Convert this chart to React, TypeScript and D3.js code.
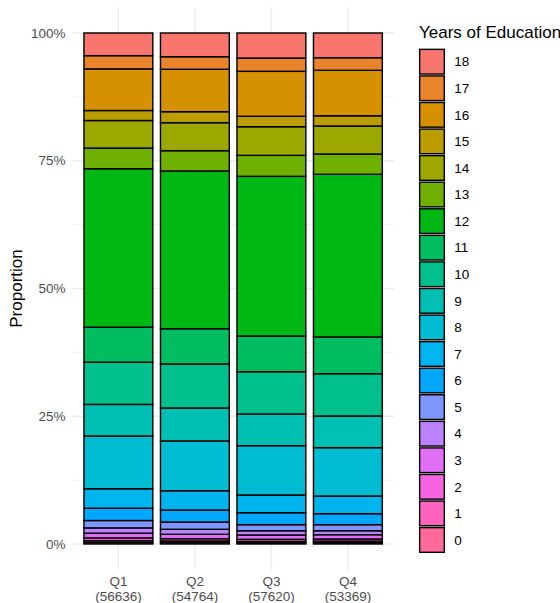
import React from "react";
import * as d3 from "d3";

// Levels of "Years of Education", 0..18
const levels: number[] = d3.range(0, 19);
const quarters: string[] = ["Q1", "Q2", "Q3", "Q4"];
const counts: string[] = ["56636", "54764", "57620", "53369"];

// Percentages per level (index = years of education 0..18)
const q1: number[] = [0.3, 0.35, 0.55, 0.92, 1.04, 1.44, 2.41, 3.82, 10.33, 6.2, 8.28, 6.85, 31.06, 4.05, 5.4, 1.96, 8.15, 2.6, 4.44];
const q2: number[] = [0.3, 0.3, 0.44, 0.86, 0.98, 1.42, 2.35, 3.78, 9.73, 6.45, 8.62, 6.9, 30.87, 3.97, 5.48, 2.15, 8.3, 2.46, 4.64];
const q3: number[] = [0.25, 0.27, 0.4, 0.84, 0.84, 1.18, 2.35, 3.46, 9.65, 6.2, 8.28, 6.98, 31.25, 4.11, 5.6, 2.04, 8.8, 2.6, 4.9];
const q4: number[] = [0.28, 0.28, 0.42, 0.84, 0.78, 1.18, 2.15, 3.46, 9.46, 6.2, 8.28, 7.18, 31.84, 3.97, 5.48, 2.0, 8.9, 2.47, 4.83];
const series: number[][] = [q1, q2, q3, q4];

const yTicks: number[] = [0, 0.25, 0.5, 0.75, 1];
const yMinor: number[] = [0.125, 0.375, 0.625, 0.875];

// R-style hcl (polarLUV) -> hex
function hclHex(h: number, c: number, l: number): string {
  const hr = (h * Math.PI) / 180;
  const U = c * Math.cos(hr);
  const V = c * Math.sin(hr);
  const Xn = 95.047, Yn = 100, Zn = 108.883;
  const t = Xn + 15 * Yn + 3 * Zn;
  const un = (4 * Xn) / t, vn = (9 * Yn) / t;
  const Y = Yn * (l > 7.999592 ? Math.pow((l + 16) / 116, 3) : l / 903.3);
  const u = U / (13 * l) + un;
  const v = V / (13 * l) + vn;
  const X = (9 * Y * u) / (4 * v);
  const Z = -X / 3 - 5 * Y + (3 * Y) / v;
  const g = (x: number) => {
    const y = x <= 0.0031308 ? 12.92 * x : 1.055 * Math.pow(x, 1 / 2.4) - 0.055;
    return Math.round(255 * Math.max(0, Math.min(1, y)));
  };
  const R = (3.240479 * X - 1.53715 * Y - 0.498535 * Z) / Yn;
  const G = (-0.969256 * X + 1.875992 * Y + 0.041556 * Z) / Yn;
  const B = (0.055648 * X - 0.204043 * Y + 1.057311 * Z) / Yn;
  return d3.rgb(g(R), g(G), g(B)).formatHex();
}

const n = levels.length;
// first factor level is 18 -> first hue
const colorOf = (lev: number) => hclHex(15 + ((18 - lev) * 360) / n, 100, 65);

const W = 560, H = 603;
const panelL = 72.5, panelR = 393.8;
const y0 = 544, y1 = 33;
const yExp = (y0 - y1) * 0.05;
const panelT = y1 - yExp, panelB = y0 + yExp;

const tickSize = 13.5;
const titleSize = 17;

export default function App() {
  const x = d3.scaleBand<string>().domain(quarters).range([panelL, panelR]).paddingInner(0.1).paddingOuter(0.15);
  const y = d3.scaleLinear().domain([0, 1]).range([y0, y1]);

  const table = quarters.map((q, i) => {
    const row: any = { q };
    const tot = d3.sum(series[i]);
    levels.forEach((lv) => (row[lv] = series[i][lv] / tot));
    return row;
  });
  const stacked = d3.stack<any>().keys(levels.map(String)).offset(d3.stackOffsetExpand)(table);

  const font = "'Liberation Sans', Arial, Helvetica, sans-serif";
  const grid = "#EBEBEB";

  const keyPitch = 26.57;
  const keyTop = 61.7 - keyPitch / 2;
  const keyX = 418.7;
  const legendOrder = levels.slice().reverse();

  return (
    <svg width={W} height={H} style={{ position: "absolute", left: 0, top: 0, display: "block" }} fontFamily={font}>
      <rect width={W} height={H} fill="white" />
      {yMinor.map((t) => (
        <line key={"mn" + t} x1={panelL} x2={panelR} y1={y(t)} y2={y(t)} stroke={grid} strokeWidth={0.71} />
      ))}
      {yTicks.map((t) => (
        <line key={"mj" + t} x1={panelL} x2={panelR} y1={y(t)} y2={y(t)} stroke={grid} strokeWidth={1.42} />
      ))}
      {quarters.map((q) => (
        <line key={"v" + q} x1={x(q)! + x.bandwidth() / 2} x2={x(q)! + x.bandwidth() / 2} y1={panelT} y2={panelB} stroke={grid} strokeWidth={1.42} />
      ))}
      {stacked.map((s) =>
        s.map((d, i) => (
          <rect
            key={s.key + "-" + i}
            x={x(quarters[i])}
            width={x.bandwidth()}
            y={y(d[1])}
            height={y(d[0]) - y(d[1])}
            fill={colorOf(+s.key)}
            stroke="black"
            strokeWidth={1.42}
          />
        ))
      )}
      {yTicks.map((t) => (
        <text key={"yl" + t} x={65.5} y={y(t) + tickSize * 0.35} textAnchor="end" fontSize={tickSize} fill="#4D4D4D">
          {d3.format(".0%")(t)}
        </text>
      ))}
      {quarters.map((q, i) => (
        <g key={"xl" + q}>
          <text x={x(q)! + x.bandwidth() / 2} y={585.5} textAnchor="middle" fontSize={tickSize} fill="#4D4D4D">{q}</text>
          <text x={x(q)! + x.bandwidth() / 2} y={601} textAnchor="middle" fontSize={tickSize} fill="#4D4D4D">({counts[i]})</text>
        </g>
      ))}
      <text transform={`translate(21.5, ${(panelT + panelB) / 2}) rotate(-90)`} textAnchor="middle" fontSize={titleSize} fill="black">
        Proportion
      </text>
      <text x={419} y={38.3} fontSize={titleSize} fill="black">Years of Education</text>
      {legendOrder.map((lv, i) => {
        const top = keyTop + i * keyPitch;
        const inset = 0.95;
        return (
          <g key={"lg" + lv}>
            <rect x={keyX + inset} y={top + inset} width={keyPitch - 2 * inset} height={keyPitch - 2 * inset} fill={colorOf(lv)} stroke="black" strokeWidth={1.42} />
            <text x={454.3} y={top + keyPitch / 2 + tickSize * 0.35} fontSize={tickSize} fill="black">{lv}</text>
          </g>
        );
      })}
    </svg>
  );
}
